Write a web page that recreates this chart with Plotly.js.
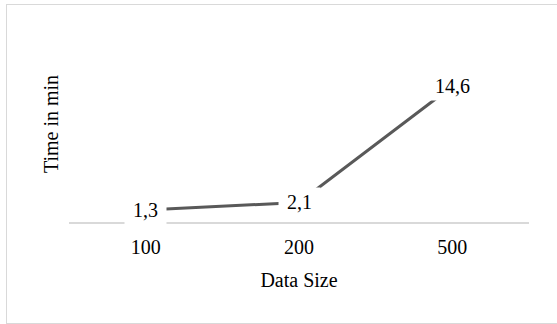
<!DOCTYPE html>
<html>
<head>
<meta charset="utf-8">
<script src="https://cdn.plot.ly/plotly-3.0.1.min.js"></script>
<style>
  html, body { margin: 0; padding: 0; background: #fff; }
  #wrap { position: relative; width: 557px; height: 324px; overflow: hidden; }
  #chart { position: absolute; left: 0; top: 0; width: 557px; height: 324px; }
  #frame { position: absolute; left: 6px; top: 4px; width: 560px; height: 318px;
           border: 1.5px solid #d9d9d9; pointer-events: none; }
</style>
</head>
<body>
<div id="wrap">
  <div id="chart"></div>
  <div id="frame"></div>
</div>
<script>
const categories = ['100', '200', '500'];
const times = [1.3, 2.1, 14.6];
const xTitle = 'Data Size';
const yTitle = 'Time in min';

const FONT = 'Liberation Serif, Times New Roman, serif';

const trace = {
  x: categories,
  y: times,
  type: 'scatter',
  mode: 'lines',
  line: { color: '#595959', width: 3 },
  hoverinfo: 'none'
};

const annotations = categories.map((c, i) => ({
  x: i,
  y: times[i],
  xref: 'x',
  yref: 'y',
  text: '\u00a0' + String(times[i]).replace('.', ',') + '\u00a0',
  showarrow: false,
  xanchor: 'center',
  yanchor: 'middle',
  bgcolor: '#ffffff',
  borderpad: 3,
  font: { family: FONT, size: 20, color: '#000000' }
}));

const layout = {
  width: 557,
  height: 324,
  margin: { l: 69, r: 28, t: 26, b: 102 },
  paper_bgcolor: '#ffffff',
  plot_bgcolor: '#ffffff',
  showlegend: false,
  font: { family: FONT, size: 20, color: '#000000' },
  xaxis: {
    type: 'category',
    range: [-0.5, 2.5],
    showline: true,
    linecolor: '#d9d9d9',
    linewidth: 1.5,
    ticks: '',
    showgrid: false,
    zeroline: false,
    ticklabelstandoff: 6,
    tickfont: { family: FONT, size: 20, color: '#000000' },
    title: { text: xTitle, standoff: 16, font: { family: FONT, size: 20, color: '#000000' } },
    automargin: false,
    fixedrange: true
  },
  yaxis: {
    range: [0, 21.08],
    showline: false,
    showticklabels: false,
    ticks: '',
    showgrid: false,
    zeroline: false,
    title: { text: yTitle, standoff: 4, font: { family: FONT, size: 20, color: '#000000' } },
    automargin: false,
    fixedrange: true
  },
  annotations: annotations
};

Plotly.newPlot('chart', [trace], layout, { displayModeBar: false, staticPlot: true });
</script>
</body>
</html>
